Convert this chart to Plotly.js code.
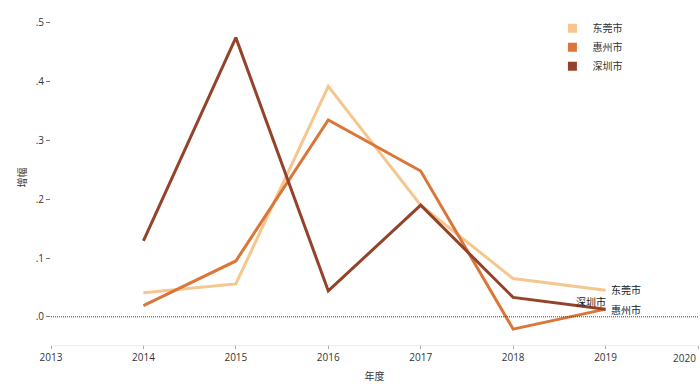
<!DOCTYPE html>
<html><head><meta charset="utf-8">
<script src="https://cdn.plot.ly/plotly-3.0.1.min.js"></script>
<style>html,body{margin:0;padding:0;background:#fff}#chart{width:700px;height:388px}</style>
</head><body><div id="chart"></div>
<script>
var years = [2014, 2015, 2016, 2017, 2018, 2019];
var cityNames = ['东莞市', '惠州市', '深圳市'];
var dongguan = [0.041, 0.056, 0.392, 0.190, 0.065, 0.045];
var huizhou = [0.019, 0.095, 0.335, 0.248, -0.021, 0.013];
var shenzhen = [0.129, 0.475, 0.044, 0.190, 0.033, 0.013];
var xTicks = [2013, 2014, 2015, 2016, 2017, 2018, 2019, 2020];
var xTickText = ['2013', '2014', '2015', '2016', '2017', '2018', '2019', '2020'];
var yTickVals = [0, 0.1, 0.2, 0.3, 0.4, 0.5];
var yTickText = ['.0', '.1', '.2', '.3', '.4', '.5'];
var colors = ['#f6c68f', '#db7638', '#93432a'];
var series = [dongguan, huizhou, shenzhen];

var font = 'Open Sans, Noto Sans CJK SC, sans-serif';
var traces = [];
series.forEach(function (s, i) {
  traces.push({x: years, y: s, mode: 'lines', name: cityNames[i], showlegend: false,
    line: {color: colors[i], width: 3}, hoverinfo: 'skip'});
});
series.forEach(function (s, i) {
  traces.push({x: [null], y: [null], mode: 'markers', name: cityNames[i], showlegend: true,
    marker: {symbol: 'square', size: 9, color: colors[i]}});
});

var last = years.length - 1;
var annotations = [
  {x: years[last], y: dongguan[last], text: cityNames[0], xanchor: 'left', xshift: 3, yshift: 0},
  {x: years[last], y: huizhou[last], text: cityNames[1], xanchor: 'left', xshift: 3, yshift: -1},
  {x: years[last], y: shenzhen[last], text: cityNames[2], xanchor: 'right', xshift: 2, yshift: 7}
].map(function (a) {
  a.xref = 'x'; a.yref = 'y'; a.showarrow = false; a.yanchor = 'middle';
  a.font = {family: font, size: 10, color: '#222'};
  return a;
});
// last tick label sits flush with the right edge of the page, as in the reference
var nLast = xTickText.length - 1;
annotations.push({xref: 'paper', yref: 'paper', x: 1, y: 0, xanchor: 'right', yanchor: 'top',
  yshift: -4, showarrow: false, text: xTickText[nLast],
  font: {family: font, size: 10, color: '#333'}});
var tickText = xTickText.map(function (t, i) { return i === nLast ? '' : t; });

var layout = {
  width: 700, height: 388,
  margin: {l: 51, r: 2, t: 10, b: 43},
  paper_bgcolor: '#fff', plot_bgcolor: '#fff',
  font: {family: font, size: 10, color: '#333'},
  xaxis: {range: [2013, 2020], tickvals: xTicks, ticktext: tickText,
    showgrid: false, zeroline: false, showline: true, linecolor: '#eeeef4', linewidth: 1,
    ticks: 'outside', ticklen: 3, tickcolor: '#aaa',
    tickfont: {size: 10, color: '#333'},
    title: {text: '年度', font: {size: 10, color: '#333'}, standoff: 9}},
  yaxis: {range: [-0.048, 0.522], tickvals: yTickVals, ticktext: yTickText,
    showgrid: false, zeroline: false, showline: false,
    ticks: 'outside', ticklen: 4, tickcolor: '#777',
    tickfont: {size: 10, color: '#333'},
    title: {text: '增幅', font: {size: 10, color: '#333'}, standoff: 7}},
  legend: {x: 0.775, y: 0.989, xanchor: 'left', yanchor: 'top', bgcolor: 'rgba(0,0,0,0)',
    font: {size: 10, color: '#333'}, tracegroupgap: 0, itemwidth: 30},
  shapes: [{type: 'line', xref: 'paper', yref: 'y', x0: 0, x1: 1, y0: 0, y1: 0,
    line: {color: '#444', width: 1, dash: '1px,1px'}}],
  annotations: annotations
};
Plotly.newPlot('chart', traces, layout, {staticPlot: true, displayModeBar: false});
</script></body></html>
